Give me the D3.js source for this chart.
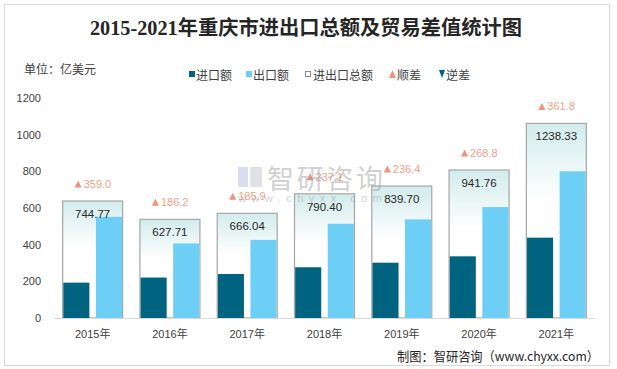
<!DOCTYPE html>
<html><head><meta charset="utf-8">
<script src="https://cdn.jsdelivr.net/npm/d3@7/dist/d3.min.js"></script>
<style>
html,body{margin:0;padding:0;background:#fff;}
svg{display:block;}
</style></head>
<body>
<svg id="chart" width="617" height="369"></svg>
<script>
const years = ["2015年","2016年","2017年","2018年","2019年","2020年","2021年"];
const importVals = [192.89, 220.76, 240.07, 276.65, 301.65, 336.48, 438.27];
const exportVals = [551.89, 406.96, 425.97, 513.75, 538.05, 605.28, 800.07];
const totalVals = [744.77, 627.71, 666.04, 790.40, 839.70, 941.76, 1238.33];
const surplusVals = [359.0, 186.2, 185.9, 237.1, 236.4, 268.8, 361.8];
const yTicks = [0, 200, 400, 600, 800, 1000, 1200];
const legendItems = ["进口额","出口额","进出口总额","顺差","逆差"];

const C_IMP = "#00637f", C_EXP = "#6dcff6", C_SUR = "#f0927a", C_TXT = "#404040";
const sans = "'Liberation Sans','Noto Sans CJK SC',sans-serif";
const cjk = "'Noto Sans CJK SC',sans-serif";

const svg = d3.select("#chart");
svg.append("rect").attr("x",4.5).attr("y",4.5).attr("width",605).attr("height",361)
  .attr("fill","#fff").attr("stroke","#d9d9d9").attr("stroke-width",1);

svg.append("text").attr("x",306).attr("y",35).attr("text-anchor","middle")
  .attr("font-family","'Liberation Serif','Noto Sans CJK SC',serif").attr("font-weight","bold")
  .attr("font-size",20).attr("fill","#262626")
  .attr("textLength",432).attr("lengthAdjust","spacingAndGlyphs")
  .text("2015-2021年重庆市进出口总额及贸易差值统计图");

svg.append("text").attr("x",24).attr("y",68).attr("dominant-baseline","central")
  .attr("font-family",cjk).attr("font-size",12).attr("fill",C_TXT).text("单位：亿美元");

const x = d3.scaleBand().domain(years).range([54,595]).paddingInner(0.224).paddingOuter(0.112);
const sub = d3.scaleBand().domain(["imp","exp"]).range([0,x.bandwidth()]).paddingInner(0.2).paddingOuter(0.02);
const y = d3.scaleLinear().domain([0,1200]).range([318,98]);
const y2 = d3.scaleLinear().domain([0,1400]).range([318,98]);

const yAxis = d3.axisLeft(y).tickValues(yTicks).tickFormat(d3.format("d")).tickSize(0).tickPadding(0);
const ga = svg.append("g").attr("transform","translate(41,0)").call(yAxis);
ga.select(".domain").remove();
ga.selectAll("text").attr("font-family",sans).attr("font-size",11).attr("fill",C_TXT);

const defs = svg.append("defs");
const grad = defs.append("linearGradient").attr("id","tg").attr("x1",0).attr("y1",0).attr("x2",0).attr("y2",1);
grad.append("stop").attr("offset","0").attr("stop-color","#d3ecec");
grad.append("stop").attr("offset","0.4").attr("stop-color","#ffffff");
grad.append("stop").attr("offset","1").attr("stop-color","#ffffff");

const gT = svg.append("g");
gT.selectAll("rect").data(years).join("rect")
  .attr("x",d=>x(d)).attr("width",x.bandwidth())
  .attr("y",(d,i)=>y2(totalVals[i])).attr("height",(d,i)=>y2(0)-y2(totalVals[i]))
  .attr("fill","url(#tg)").attr("stroke","#a6a6a6").attr("stroke-width",1.2);

svg.append("g").selectAll("rect").data(years).join("rect")
  .attr("x",d=>x(d)+sub("imp")).attr("width",sub.bandwidth())
  .attr("y",(d,i)=>y(importVals[i])).attr("height",(d,i)=>y(0)-y(importVals[i]))
  .attr("fill",C_IMP);
svg.append("g").selectAll("rect").data(years).join("rect")
  .attr("x",d=>x(d)+sub("exp")).attr("width",sub.bandwidth())
  .attr("y",(d,i)=>y(exportVals[i])).attr("height",(d,i)=>y(0)-y(exportVals[i]))
  .attr("fill",C_EXP);

svg.append("line").attr("x1",54).attr("x2",595).attr("y1",318.5).attr("y2",318.5)
  .attr("stroke","#d9d9d9").attr("stroke-width",1);
const xAxis = d3.axisBottom(x).tickSize(0).tickPadding(0);
const gx = svg.append("g").attr("transform","translate(0,334)").call(xAxis);
gx.select(".domain").remove();
gx.selectAll("text").attr("dy",null).attr("dominant-baseline","central")
  .attr("font-family",sans).attr("font-size",11).attr("fill",C_TXT);

svg.append("g").selectAll("text").data(years).join("text")
  .attr("x",d=>x(d)+x.bandwidth()/2).attr("y",(d,i)=>y2(totalVals[i])+13)
  .attr("text-anchor","middle").attr("dominant-baseline","central")
  .attr("font-family",sans).attr("font-size",11.5).attr("fill","#262626")
  .text((d,i)=>totalVals[i].toFixed(2));

const gs = svg.append("g").selectAll("g").data(years).join("g")
  .attr("transform",(d,i)=>`translate(${x(d)+x.bandwidth()/2},${y2(totalVals[i])-17})`);
gs.append("path").attr("d","M-18,3.5 L-14.5,-3.5 L-11,3.5 Z").attr("fill",C_SUR);
gs.append("text").attr("x",-9).attr("y",0).attr("dominant-baseline","central")
  .attr("font-family",sans).attr("font-size",11).attr("fill","#f4a08a")
  .text((d,i)=>surplusVals[i].toFixed(1));

const wm = svg.append("g").attr("opacity",0.45).attr("pointer-events","none");
wm.append("rect").attr("x",238).attr("y",167).attr("width",10).attr("height",20).attr("fill","#a9b8d6");
wm.append("rect").attr("x",250).attr("y",167).attr("width",12).attr("height",20).attr("fill","#b9c0cc");
wm.append("text").attr("x",267).attr("y",177).attr("dominant-baseline","central")
  .attr("font-family",cjk).attr("font-size",27).attr("fill","#9a9a9a")
  .attr("textLength",116).text("智研咨询");
wm.append("text").attr("x",238).attr("y",198).attr("dominant-baseline","central")
  .attr("font-family",sans).attr("font-size",11).attr("fill","#9a9a9a")
  .attr("textLength",144).text("www.chyxx.com");

const lg = svg.append("g");
const ly = 74;
lg.append("rect").attr("x",189).attr("y",ly-3).attr("width",6).attr("height",6).attr("fill",C_IMP);
lg.append("rect").attr("x",246).attr("y",ly-3).attr("width",6).attr("height",6).attr("fill",C_EXP);
lg.append("rect").attr("x",305.5).attr("y",ly-2.5).attr("width",5).attr("height",5).attr("fill","#fff").attr("stroke","#8c8c8c").attr("stroke-width",1);
lg.append("path").attr("d",`M389,${ly+4} L392.5,${ly-4} L396,${ly+4} Z`).attr("fill",C_SUR);
lg.append("path").attr("d",`M439,${ly-4} L445,${ly-4} L442,${ly+4} Z`).attr("fill",C_IMP);
const lx = [196, 253, 313, 397, 446];
lg.selectAll("text").data(legendItems).join("text")
  .attr("x",(d,i)=>lx[i]).attr("y",ly).attr("dominant-baseline","central")
  .attr("font-family",cjk).attr("font-size",12).attr("fill",C_TXT).text(d=>d);

svg.append("text").attr("x",599).attr("y",355).attr("text-anchor","end").attr("dominant-baseline","central")
  .attr("font-family",cjk).attr("font-size",13).attr("fill","#262626")
  .attr("textLength",202).attr("lengthAdjust","spacingAndGlyphs")
  .text("制图：智研咨询（www.chyxx.com）");
</script>
</body></html>
